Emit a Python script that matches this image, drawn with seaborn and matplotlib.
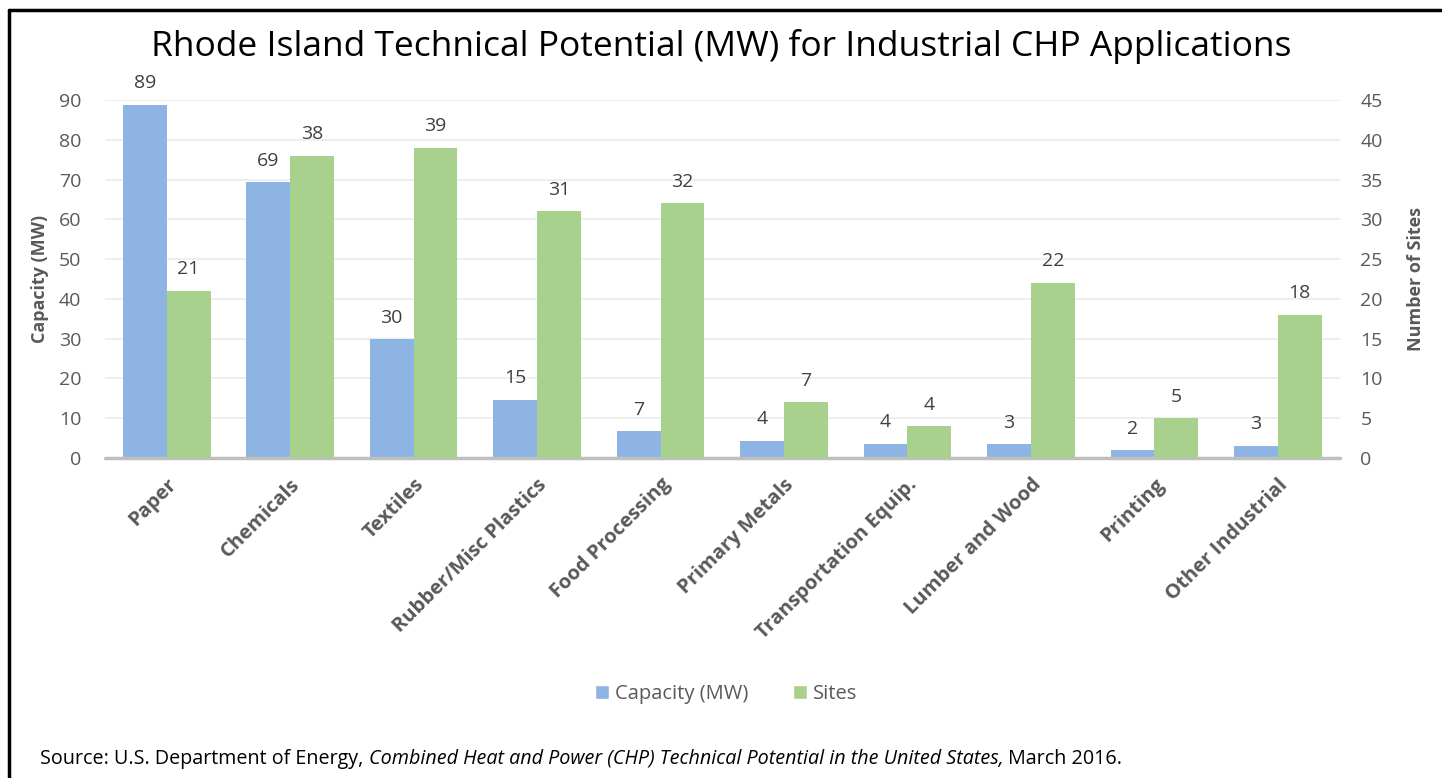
import matplotlib
matplotlib.use("Agg")
import matplotlib.pyplot as plt
from matplotlib.lines import Line2D
from matplotlib.patches import Patch
import numpy as np
import pandas as pd
import seaborn as sns

categories = ["Paper", "Chemicals", "Textiles", "Rubber/Misc Plastics", "Food Processing",
              "Primary Metals", "Transportation Equip.", "Lumber and Wood", "Printing",
              "Other Industrial"]
capacity_mw = [88.8, 69.3, 29.8, 14.6, 6.7, 4.4, 3.6, 3.4, 2.0, 3.1]
sites = [21, 38, 39, 31, 32, 7, 4, 22, 5, 18]
series_names = ["Capacity (MW)", "Sites"]

BLUE = "#8DB4E2"
GREEN = "#A9D18E"
TEXT = "#595959"
LABEL = "#404040"

sns.set_theme(style="white")
plt.rcParams["font.family"] = ["Open Sans", "DejaVu Sans"]

df = pd.DataFrame({
    "category": categories * 2,
    "series": [series_names[0]] * len(categories) + [series_names[1]] * len(categories),
    "capacity": capacity_mw + [0] * len(categories),
    "sites": [0] * len(categories) + sites,
})

fig = plt.figure(figsize=(14.42, 7.78), dpi=100)
ax = fig.add_axes([0.0728, 0.4113, 0.8562, 0.4602])
ax2 = ax.twinx()

palette = {series_names[0]: BLUE, series_names[1]: GREEN}
sns.barplot(data=df, x="category", y="capacity", hue="series", hue_order=series_names,
            order=categories, palette=palette, width=0.71, linewidth=0, saturation=1,
            errorbar=None, legend=False, ax=ax)
sns.barplot(data=df, x="category", y="sites", hue="series", hue_order=series_names,
            order=categories, palette=palette, width=0.71, linewidth=0, saturation=1,
            errorbar=None, legend=False, ax=ax2)

ax.set_ylim(0, 90)
ax2.set_ylim(0, 45)
ax.set_yticks(np.arange(0, 91, 10))
ax2.set_yticks(np.arange(0, 46, 5))
ax.set_xlim(-0.5, len(categories) - 0.5)

ax.grid(axis="y", color="#EBEBEB", linewidth=1.2)
ax.set_axisbelow(True)
for a in (ax, ax2):
    for s in a.spines.values():
        s.set_visible(False)
    a.tick_params(axis="both", length=0, labelsize=14, labelcolor=TEXT)
ax.tick_params(axis="y", pad=17)
ax2.tick_params(axis="y", pad=15)
ax.axhline(0, color="#BFBFBF", linewidth=2.5, zorder=5, clip_on=False)

ax.set_xlabel("")
ax2.set_xlabel("")
ax.set_ylabel("Capacity (MW)", fontsize=13, fontweight="bold", color=TEXT, labelpad=7)
ax2.set_ylabel("Number of Sites", fontsize=13, fontweight="bold", color=TEXT, labelpad=17)
ax.set_xticks(range(len(categories)))
ax.set_xticklabels(categories, rotation=45, ha="right", rotation_mode="anchor",
                   fontsize=14.5, fontweight="bold", color=TEXT)
ax.tick_params(axis="x", pad=12)

# data labels: only the real bars of each axis
ax.bar_label(ax.containers[0], labels=[f"{v:.0f}" for v in capacity_mw],
             padding=9, fontsize=14, color=LABEL)
ax2.bar_label(ax2.containers[1], labels=[f"{v}" for v in sites],
              padding=9, fontsize=14, color=LABEL)

fig.text(0.5, 0.94, "Rhode Island Technical Potential (MW) for Industrial CHP Applications",
         ha="center", va="center", fontsize=25.5, color="#000000")

handles = [Patch(facecolor=BLUE, label=series_names[0]),
           Patch(facecolor=GREEN, label=series_names[1])]
fig.legend(handles=handles, loc="center", bbox_to_anchor=(0.5035, 0.108), ncol=2,
           frameon=False, fontsize=14.5, labelcolor=TEXT, handlelength=0.7,
           handleheight=0.7, handletextpad=0.3, columnspacing=2.2)

base_y = 0.018
fs_src = 14.2
t1 = fig.text(0.028, base_y, "Source: U.S. Department of Energy, ", fontsize=fs_src,
              color="#000000", va="baseline")
t2 = fig.text(0, 0, "Combined Heat and Power (CHP) Technical Potential in the United States,",
              fontsize=fs_src, style="italic", color="#000000", va="baseline")
t3 = fig.text(0, 0, " March 2016.", fontsize=fs_src, color="#000000", va="baseline")
fig.canvas.draw()
r = fig.canvas.get_renderer()
x = t1.get_window_extent(r).x1 / fig.bbox.width
t2.set_position((x, base_y))
fig.canvas.draw()
x = t2.get_window_extent(r).x1 / fig.bbox.width
t3.set_position((x, base_y))

# frame: left and top edges only
fig.add_artist(Line2D([9 / 1442, 9 / 1442], [0, 1 - 10 / 778], color="black",
                      linewidth=2.5, transform=fig.transFigure))
fig.add_artist(Line2D([9 / 1442, 1], [1 - 10 / 778, 1 - 10 / 778], color="black",
                      linewidth=2.5, transform=fig.transFigure))

fig.savefig("out.png", dpi=100)
